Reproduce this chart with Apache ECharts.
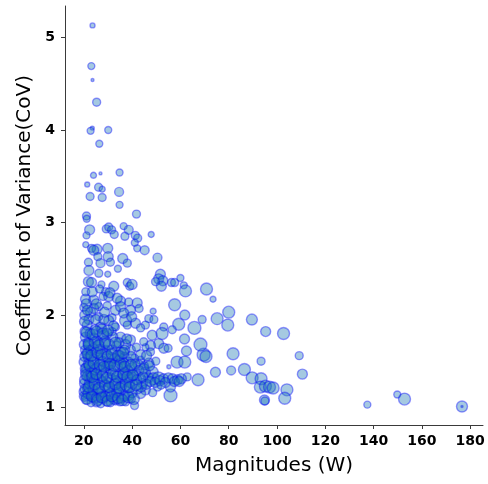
<!DOCTYPE html>
<html>
<head>
<meta charset="utf-8">
<script src="https://cdn.jsdelivr.net/npm/echarts@6/dist/echarts.min.js"></script>
<style>
  html, body { margin: 0; padding: 0; background: #fff; }
  #chart { width: 488px; height: 484px; }
</style>
</head>
<body>
<div id="chart"></div>
<script>
// Magnitude (W) of each load
const magnitudes = [
  23.6, 23.1, 23.6, 25.3, 23.5, 22.8, 30.1, 26.4, 24.0, 26.9, 34.8, 21.4, 26.1, 27.6, 34.6, 22.6, 27.6, 34.8, 41.8, 21.1,
  21.2, 22.4, 21.1, 20.8, 25.5, 23.2, 29.3, 30.3, 31.5, 32.6, 36.5, 38.6, 37.0, 41.3, 42.3, 47.9, 29.9, 30.1, 41.1, 42.1,
  45.2, 36.1, 24.1, 25.8, 50.5, 21.9, 26.9, 31.0, 38.0, 22.1, 29.9, 34.1, 21.9, 23.2, 38.0, 39.0, 32.4, 26.2, 27.3, 40.0,
  29.0, 51.7, 51.0, 52.7, 52.1, 56.3, 57.6, 60.0, 61.4, 62.1, 70.8, 73.5, 57.6, 48.7, 61.8, 80.0, 75.2, 69.0, 79.6, 89.6,
  95.3, 102.7, 109.2, 110.5, 81.8, 93.4, 86.5, 81.0, 74.5, 89.7, 93.4, 93.1, 95.2, 96.9, 98.4, 104.1, 103.2, 94.8, 95.0, 137.4,
  149.8, 152.8, 176.6, 176.6, 69.6, 70.6, 68.3, 65.8, 61.7, 62.5, 59.3, 58.6, 61.8, 67.3, 62.8, 55.9, 55.9, 53.1, 48.3, 52.4,
  56.6, 51.0, 53.1, 54.9, 47.6, 55.2, 46.9, 48.3, 45.5, 46.8, 48.8, 50.9, 53.0, 55.0, 56.7, 58.8, 60.4, 50.5, 43.5, 45.5,
  20.7, 24.1, 28.0, 35.2, 42.1, 20.0, 22.8, 26.2, 29.7, 33.1, 39.3, 42.9, 46.9, 20.4, 22.1, 26.2, 31.7, 37.3, 41.4, 38.6,
  30.3, 21.4, 26.9, 33.1, 38.0, 45.5, 30.3, 24.1, 35.2,
  20.7, 24.1, 28.3, 35.2, 39.3, 44.8, 43.5, 31.7,
  20.7, 24.8, 29.0, 35.2, 39.3, 43.5, 47.6,
  20.1, 23.6, 26.9, 31.0, 34.4, 38.5, 42.6,
  20.7, 24.8, 29.0, 33.1, 37.3, 41.4, 45.5,
  20.3, 23.6, 27.7, 31.9, 36.0, 40.1, 44.3,
  20.1, 22.8, 26.1, 30.2, 34.4, 38.5, 43.5,
  21.1, 25.3, 29.4, 33.1, 37.3, 41.0, 20.0,
  22.0, 26.5, 33.5, 37.3, 41.8,
  21.9, 26.1, 31.9, 36.8, 41.0,
  21.1, 25.3, 29.4, 36.0, 40.1, 45.1,
  22.4, 26.5, 31.0, 35.2, 39.3, 43.5,
  21.5, 25.7, 29.8, 33.9, 38.1, 42.2,
  24.0, 28.1, 31.9, 35.6, 39.7,
  49.0, 49.7,
  20.2, 20.5, 20.3, 20.6, 20.4, 20.2, 20.5, 20.3, 21.0, 20.8, 21.5, 21.8, 21.6, 21.9, 21.5, 21.7, 22.3, 22.6, 22.9, 23.0,
  23.8, 24.3, 24.5, 24.2, 24.0, 24.6, 24.9, 25.2, 25.6, 26.8, 27.2, 27.5, 27.0, 27.9, 28.3, 28.6, 28.8, 29.3, 30.0, 30.4,
  30.8, 31.3, 31.6, 32.0, 32.3, 32.8, 33.2, 33.6, 34.0, 34.6, 35.0, 35.6, 36.2, 36.5, 36.9, 37.8, 38.2, 38.9, 39.5, 40.0,
  40.5, 41.2, 42.0, 42.8, 43.8, 44.5, 25.0, 28.9, 32.5, 36.8, 23.0, 27.0, 31.0, 35.0,
  23.5, 26.5, 30.8, 33.8, 36.5, 39.8, 27.5, 29.6,
  46.0, 47.5, 49.5, 51.5, 53.8, 57.5, 59.5, 44.8, 47.2, 49.8, 46.0, 48.5, 52.0,
  21.2, 23.4, 25.6, 27.4, 29.9, 31.6, 34.2, 36.0, 38.5, 40.7,
  22.1, 24.5, 26.2, 28.8, 30.5, 33.0, 34.8, 37.4, 39.0, 41.6,
  21.0, 23.5, 25.2, 27.8, 29.5, 32.1, 33.8, 36.4, 38.0, 40.2,
  22.4, 24.1, 26.6, 28.4, 30.9, 32.6, 35.3, 36.9, 39.6,
  21.4, 23.1, 25.7, 27.3, 29.9, 31.5, 34.2, 36.3,
  22.0, 24.6, 26.1, 28.8, 30.4, 33.1,
  21.2, 23.6, 25.3, 27.9, 30.0
];

// Coefficient of variation for each load
const covValues = [
  5.13, 4.69, 4.54, 4.30, 4.02, 3.99, 4.00, 3.85, 3.51, 3.53, 3.54, 3.41, 3.38, 3.36, 3.33, 3.28, 3.27, 3.19, 3.09, 3.07,
  3.04, 2.92, 2.86, 2.76, 2.71, 2.72, 2.93, 2.95, 2.92, 2.87, 2.96, 2.92, 2.85, 2.86, 2.83, 2.87, 2.72, 2.63, 2.78, 2.72,
  2.70, 2.61, 2.70, 2.63, 2.62, 2.57, 2.56, 2.57, 2.56, 2.48, 2.44, 2.50, 2.36, 2.35, 2.35, 2.31, 2.31, 2.45, 2.33, 2.33,
  2.25, 2.44, 2.39, 2.37, 2.31, 2.35, 2.35, 2.40, 2.32, 2.26, 2.28, 2.17, 2.11, 2.04, 2.00, 2.03, 1.96, 1.95, 1.89, 1.95,
  1.82, 1.80, 1.56, 1.36, 1.58, 1.50, 1.41, 1.40, 1.38, 1.32, 1.31, 1.22, 1.23, 1.22, 1.21, 1.19, 1.10, 1.08, 1.07, 1.03,
  1.14, 1.09, 1.01, 1.01, 1.57, 1.55, 1.68, 1.86, 1.74, 1.61, 1.90, 1.49, 1.49, 1.30, 1.33, 1.13, 1.22, 1.87, 1.78, 1.80,
  1.84, 1.69, 1.64, 1.64, 1.67, 1.44, 1.48, 1.38, 1.19, 1.32, 1.31, 1.32, 1.31, 1.32, 1.31, 1.30, 1.31, 1.22, 1.51, 1.65,
  2.17, 2.16, 2.20, 2.15, 2.13, 2.08, 2.03, 2.09, 2.10, 2.05, 2.05, 2.07, 1.96, 2.00, 1.95, 1.98, 1.97, 1.94, 1.91, 2.14,
  2.20, 1.89, 1.87, 1.87, 1.89, 1.89, 1.94, 2.07, 2.09,
  1.76, 1.75, 1.78, 1.76, 1.73, 1.71, 1.86, 1.82,
  1.62, 1.60, 1.62, 1.60, 1.62, 1.57, 1.60,
  1.49, 1.46, 1.51, 1.48, 1.51, 1.49, 1.46,
  1.38, 1.35, 1.38, 1.36, 1.38, 1.35, 1.38,
  1.26, 1.24, 1.27, 1.23, 1.27, 1.25, 1.26,
  1.17, 1.13, 1.15, 1.13, 1.17, 1.13, 1.15,
  1.08, 1.06, 1.07, 1.08, 1.06, 1.02, 1.12,
  1.67, 1.70, 1.66, 1.68, 1.65,
  1.54, 1.55, 1.54, 1.54, 1.53,
  1.43, 1.43, 1.45, 1.44, 1.43, 1.45,
  1.32, 1.31, 1.32, 1.31, 1.32, 1.31,
  1.21, 1.20, 1.21, 1.20, 1.21, 1.20,
  1.11, 1.10, 1.11, 1.10, 1.09,
  1.95, 2.36,
  1.12, 1.20, 1.30, 1.42, 1.55, 1.68, 1.82, 1.93, 2.12, 2.25, 2.05, 1.70, 1.58, 1.47, 1.34, 1.15, 1.26, 1.80, 1.62, 1.37,
  1.19, 1.30, 1.41, 1.52, 1.64, 1.84, 1.95, 2.12, 1.72, 1.63, 1.40, 1.28, 1.17, 1.50, 1.95, 2.03, 1.69, 1.58, 1.46, 1.27,
  1.15, 1.40, 1.62, 1.76, 1.88, 1.53, 1.29, 1.16, 1.44, 1.70, 1.56, 1.23, 1.35, 1.48, 1.62, 1.74, 1.40, 1.27, 1.55, 1.16,
  1.35, 1.47, 1.30, 1.40, 1.22, 1.33, 1.10, 1.12, 1.09, 1.12, 1.05, 1.04, 1.05, 1.06,
  2.25, 2.28, 2.24, 2.18, 2.02, 1.98, 1.85, 1.80,
  1.25, 1.28, 1.27, 1.29, 1.27, 1.28, 1.28, 1.42, 1.45, 1.50, 1.56, 1.16, 1.24,
  1.09, 1.12, 1.08, 1.11, 1.07, 1.12, 1.10, 1.08, 1.11, 1.09,
  1.22, 1.25, 1.21, 1.24, 1.22, 1.25, 1.21, 1.24, 1.22, 1.24,
  1.35, 1.33, 1.36, 1.34, 1.32, 1.36, 1.33, 1.36, 1.33, 1.35,
  1.45, 1.48, 1.46, 1.44, 1.47, 1.45, 1.47, 1.44, 1.46,
  1.58, 1.56, 1.59, 1.57, 1.55, 1.58, 1.56, 1.59,
  1.68, 1.70, 1.67, 1.71, 1.68, 1.70,
  1.81, 1.79, 1.82, 1.80, 1.83
];

// Number of samples behind each point (drives bubble area)
const sampleCounts = [
  25, 49, 9, 64, 16, 49, 49, 49, 36, 9, 49, 25, 64, 36, 81, 64, 64, 49, 64, 64,
  49, 100, 49, 36, 100, 64, 64, 64, 64, 64, 49, 81, 64, 64, 64, 36, 100, 100, 49, 49,
  81, 100, 100, 64, 81, 64, 81, 64, 64, 100, 36, 49, 100, 100, 64, 64, 100, 64, 49, 100,
  64, 100, 100, 100, 100, 64, 64, 49, 49, 144, 144, 36, 144, 36, 100, 144, 144, 64, 144, 121,
  100, 144, 64, 100, 144, 64, 144, 81, 100, 144, 144, 144, 144, 144, 144, 144, 144, 100, 64, 49,
  49, 144, 121, 4, 169, 144, 169, 169, 100, 100, 144, 144, 144, 144, 64, 169, 100, 64, 100, 144,
  64, 100, 100, 64, 100, 16, 100, 144, 100, 100, 144, 144, 100, 100, 100, 100, 100, 64, 64, 49,
  100, 100, 64, 100, 100, 64, 100, 64, 64, 100, 100, 64, 64, 100, 100, 64, 64, 144, 100, 64,
  100, 100, 100, 64, 64, 64, 100, 100, 100,
  100, 100, 100, 100, 100, 64, 64, 64,
  100, 100, 100, 100, 100, 100, 64,
  100, 100, 100, 100, 100, 100, 100,
  100, 100, 100, 100, 100, 100, 100,
  100, 100, 100, 100, 100, 100, 100,
  100, 100, 100, 100, 100, 100, 100,
  64, 100, 100, 100, 64, 64, 36,
  100, 64, 100, 100, 64,
  100, 64, 100, 100, 64,
  100, 100, 100, 100, 100, 64,
  100, 100, 100, 100, 100, 100,
  100, 100, 100, 100, 100, 100,
  100, 100, 64, 100, 64,
  64, 64,
  100, 100, 100, 100, 100, 100, 100, 100, 100, 64, 100, 100, 100, 100, 100, 100, 100, 100, 100, 100,
  100, 100, 100, 100, 100, 100, 100, 100, 100, 100, 100, 100, 100, 100, 100, 100, 100, 100, 100, 100,
  100, 100, 100, 100, 100, 100, 100, 100, 100, 100, 100, 100, 100, 100, 100, 100, 100, 100, 100, 100,
  100, 100, 100, 100, 100, 100, 100, 100, 100, 100, 64, 64, 64, 64,
  100, 64, 100, 100, 100, 100, 100, 100,
  100, 100, 100, 100, 100, 100, 100, 100, 100, 64, 100, 64, 64,
  121, 121, 121, 121, 121, 121, 121, 121, 121, 121,
  121, 121, 121, 121, 121, 121, 121, 121, 121, 121,
  121, 121, 121, 121, 121, 121, 121, 121, 121, 121,
  121, 121, 121, 121, 121, 121, 121, 121, 121,
  121, 121, 121, 121, 121, 121, 121, 121,
  121, 121, 121, 121, 121, 121,
  121, 121, 121, 121, 121
];

const xTicks = [20, 40, 60, 80, 100, 120, 140, 160, 180];
const yTicks = [1, 2, 3, 4, 5];

const points = magnitudes.map((m, i) => [m, covValues[i], sampleCounts[i]]);

const chart = echarts.init(document.getElementById('chart'), null, { renderer: 'canvas' });

const font = 'DejaVu Sans';
chart.setOption({
  animation: false,
  backgroundColor: '#ffffff',
  grid: { left: 65, right: 5, top: 6, bottom: 59, containLabel: false },
  xAxis: {
    type: 'value',
    min: 12.2,
    max: 185.3,
    name: 'Magnitudes (W)',
    nameLocation: 'middle',
    nameGap: 31,
    nameTextStyle: { fontFamily: font, fontSize: 20, color: '#000' },
    axisLine: { show: true, onZero: false, lineStyle: { color: '#3a3a3a', width: 1 } },
    axisTick: { show: true, length: 4, customValues: xTicks, lineStyle: { color: '#3a3a3a' } },
    axisLabel: { customValues: xTicks, margin: 9, fontFamily: font, fontSize: 14, fontWeight: 'bold', color: '#000' },
    splitLine: { show: false }
  },
  yAxis: {
    type: 'value',
    min: 0.81,
    max: 5.34,
    name: 'Coefficient of Variance(CoV)',
    nameLocation: 'middle',
    nameGap: 24,
    nameTextStyle: { fontFamily: font, fontSize: 20, color: '#000' },
    axisLine: { show: true, onZero: false, lineStyle: { color: '#3a3a3a', width: 1 } },
    axisTick: { show: true, length: 4, customValues: yTicks, lineStyle: { color: '#3a3a3a' } },
    axisLabel: { customValues: yTicks, margin: 10, fontFamily: font, fontSize: 14, fontWeight: 'bold', color: '#000' },
    splitLine: { show: false }
  },
  series: [{
    type: 'scatter',
    data: points,
    symbol: 'circle',
    symbolSize: v => Math.sqrt(v[2]),
    itemStyle: {
      color: 'rgba(31,119,180,0.5)',
      borderColor: 'rgba(0,0,255,0.5)',
      borderWidth: 1.4
    },
    emphasis: { disabled: true }
  }]
});
</script>
</body>
</html>
